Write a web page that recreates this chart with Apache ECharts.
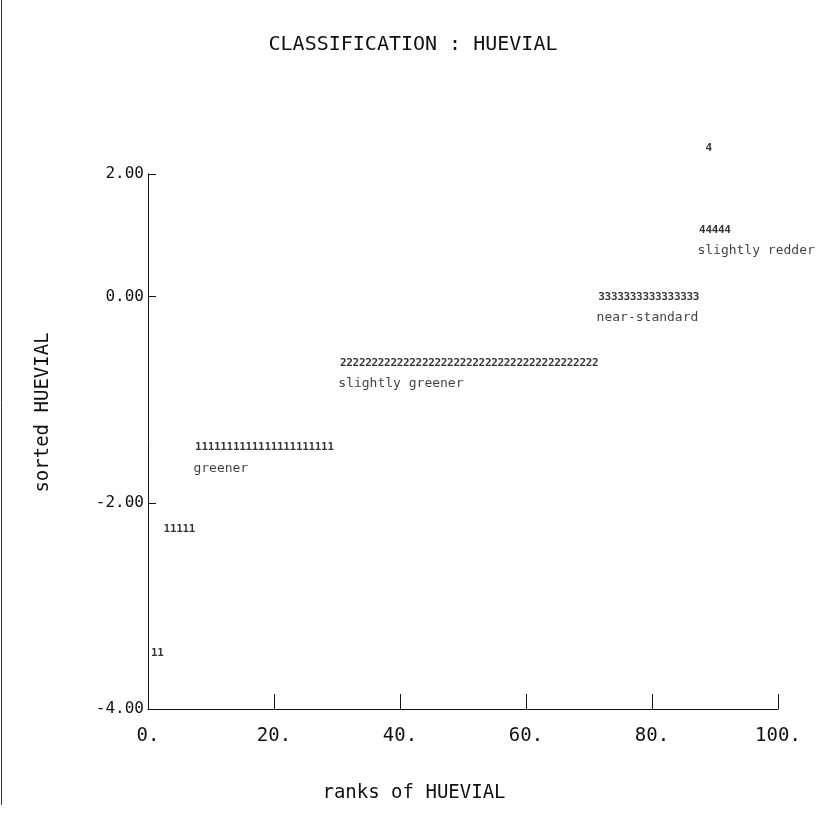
<!DOCTYPE html>
<html>
<head>
<meta charset="utf-8">
<script src="https://cdn.jsdelivr.net/npm/echarts@6/dist/echarts.min.js"></script>
<style>
html,body{margin:0;padding:0;background:#fff;}
#chart{width:826px;height:819px;}
</style>
</head>
<body>
<div id="chart"></div>
<script>
// ---- data ----
const chartTitle = 'CLASSIFICATION : HUEVIAL';
const xAxisName = 'ranks of HUEVIAL';
const yAxisName = 'sorted HUEVIAL';
const xTicks = [0, 20, 40, 60, 80, 100];
const yTicks = [-4, -2, 0, 2];

const class1Ranks = [1,2,3,4,5,6,7,8,9,10,11,12,13,14,15,16,17,18,19,20,21,22,23,24,25,26,27,28,29];
const class1Values = [-3.46,-3.46,-2.26,-2.26,-2.26,-2.26,-2.26,
  -1.46,-1.46,-1.46,-1.46,-1.46,-1.46,-1.46,-1.46,-1.46,-1.46,-1.46,
  -1.46,-1.46,-1.46,-1.46,-1.46,-1.46,-1.46,-1.46,-1.46,-1.46,-1.46];
const class2Ranks = [31,32,33,34,35,36,37,38,39,40,41,42,43,44,45,46,47,48,49,50,51,52,53,54,55,56,57,58,59,60,61,62,63,64,65,66,67,68,69,70,71];
const class2Values = [-0.64,-0.64,-0.64,-0.64,-0.64,-0.64,-0.64,-0.64,-0.64,-0.64,
  -0.64,-0.64,-0.64,-0.64,-0.64,-0.64,-0.64,-0.64,-0.64,-0.64,
  -0.64,-0.64,-0.64,-0.64,-0.64,-0.64,-0.64,-0.64,-0.64,-0.64,
  -0.64,-0.64,-0.64,-0.64,-0.64,-0.64,-0.64,-0.64,-0.64,-0.64,-0.64];
const class3Ranks = [72,73,74,75,76,77,78,79,80,81,82,83,84,85,86,87];
const class3Values = [0.0,0.0,0.0,0.0,0.0,0.0,0.0,0.0,0.0,0.0,0.0,0.0,0.0,0.0,0.0,0.0];
const class4Ranks = [88,89,90,91,92,89];
const class4Values = [0.65,0.65,0.65,0.65,0.65,1.44];

const classNames = ['greener', 'slightly greener', 'near-standard', 'slightly redder'];
const classNameRanks = [8, 31, 72, 88];
const classNameValues = [-1.46, -0.64, 0.0, 0.65];

const yTop = 1.19; // where the drawn axis ends (labelled 2.00 in the reference)

// ---- chart ----
const mono = 'DejaVu Sans Mono';
const txt = '#111';
function zip(a, b) { return a.map((v, i) => [v, b[i]]); }
function digitSeries(name, ranks, values, digit) {
  return {
    name: name, type: 'scatter', symbolSize: 0, clip: false, silent: true,
    data: zip(ranks, values),
    label: { show: true, position: 'inside', formatter: digit,
      fontFamily: mono, fontSize: 11, fontWeight: 'bold', color: '#000' }
  };
}

const chart = echarts.init(document.getElementById('chart'), null, {renderer: 'canvas'});
chart.setOption({
  animation: false,
  backgroundColor: '#fff',
  title: {
    text: chartTitle, left: 'center', top: 30,
    textStyle: { fontFamily: mono, fontSize: 20, fontWeight: 'normal', color: txt }
  },
  grid: { left: 148, right: 48, top: 174, bottom: 110 },
  xAxis: {
    type: 'value', min: 0, max: 100, interval: 20,
    name: xAxisName, nameLocation: 'middle', nameGap: 75,
    nameTextStyle: { fontFamily: mono, fontSize: 19, color: txt, padding: [0, 98, 0, 0] },
    axisLine: { onZero: false, lineStyle: { color: '#111', width: 1 } },
    axisTick: { inside: true, length: 15, lineStyle: { color: '#111' } },
    axisLabel: { formatter: v => v + '.', fontFamily: mono, fontSize: 19, color: txt, margin: 18 },
    splitLine: { show: false }
  },
  yAxis: {
    type: 'value', min: -4, max: yTop, interval: 2,
    name: yAxisName, nameLocation: 'middle', nameGap: 95, nameRotate: 90,
    nameTextStyle: { fontFamily: mono, fontSize: 19, color: txt, padding: [0, 0, 0, 58] },
    axisLine: { show: true, onZero: false, lineStyle: { color: '#111', width: 1 } },
    axisTick: { show: true, inside: true, length: 8, lineStyle: { color: '#111' } },
    axisLabel: {
      showMaxLabel: true, fontFamily: mono, fontSize: 16, color: txt, margin: 4,
      formatter: v => (v === yTop ? yTicks[yTicks.length - 1] : v).toFixed(2)
    },
    splitLine: { show: false }
  },
  graphic: [{
    type: 'line', shape: { x1: 1.5, y1: 0, x2: 1.5, y2: 805 },
    style: { stroke: '#333', lineWidth: 1 }
  }],
  series: [
    digitSeries('class 1', class1Ranks, class1Values, '1'),
    digitSeries('class 2', class2Ranks, class2Values, '2'),
    digitSeries('class 3', class3Ranks, class3Values, '3'),
    digitSeries('class 4', class4Ranks, class4Values, '4'),
    {
      name: 'class names', type: 'scatter', symbolSize: 0, clip: false, silent: true,
      data: classNames.map((n, i) => ({ value: [classNameRanks[i], classNameValues[i]], name: n })),
      label: { show: true, position: 'inside', align: 'left', offset: [-5, 21],
        formatter: p => p.name, fontFamily: mono, fontSize: 13, color: txt }
    }
  ]
});
</script>
</body>
</html>
